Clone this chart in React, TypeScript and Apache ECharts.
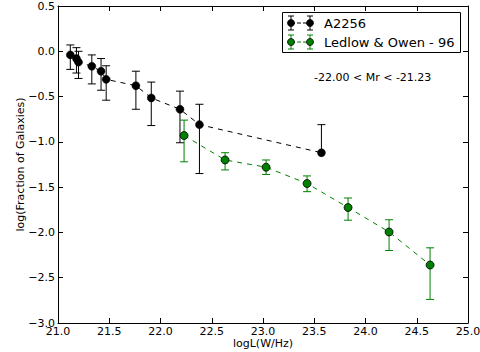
import React, { useEffect, useRef } from "react";
import * as echarts from "echarts";

const a2256X = [21.12, 21.18, 21.2, 21.33, 21.42, 21.47, 21.76, 21.91, 22.19, 22.38, 23.57];
const a2256Y = [-0.04, -0.08, -0.12, -0.165, -0.22, -0.31, -0.38, -0.515, -0.64, -0.81, -1.12];
const a2256Hi = [0.07, 0.04, 0.0, -0.04, -0.08, -0.16, -0.22, -0.34, -0.44, -0.585, -0.81];
const a2256Lo = [-0.2, -0.24, -0.3, -0.36, -0.43, -0.54, -0.64, -0.82, -1.01, -1.35, NaN];

const ledX = [22.23, 22.63, 23.03, 23.43, 23.83, 24.23, 24.63];
const ledY = [-0.93, -1.2, -1.28, -1.46, -1.725, -1.995, -2.36];
const ledHi = [-0.76, -1.12, -1.2, -1.376, -1.62, -1.86, -2.17];
const ledLo = [-1.22, -1.31, -1.36, -1.55, -1.865, -2.2, -2.74];

const seriesNames = ["A2256", "Ledlow & Owen - 96"];
const annotation = "-22.00 < Mr < -21.23";
const xLabel = "logL(W/Hz)";
const yLabel = "log(Fraction of Galaxies)";

const FONT = "DejaVu Sans";
const GREEN = "#008000";

function errRender(color: string) {
  return (params: any, api: any) => {
    const x = api.value(0);
    const y = api.value(1);
    const hi = api.value(2);
    const lo = api.value(3);
    const pc = api.coord([x, y]);
    const ph = api.coord([x, hi]);
    const hasLo = !isNaN(lo);
    const pl = hasLo ? api.coord([x, lo]) : pc;
    const cw = 4;
    const style = { stroke: color, lineWidth: 1 };
    const children: any[] = [
      { type: "line", shape: { x1: pc[0], y1: ph[1], x2: pc[0], y2: pl[1] }, style },
      { type: "line", shape: { x1: pc[0] - cw, y1: ph[1], x2: pc[0] + cw, y2: ph[1] }, style },
    ];
    if (hasLo) {
      children.push({ type: "line", shape: { x1: pc[0] - cw, y1: pl[1], x2: pc[0] + cw, y2: pl[1] }, style });
    }
    return { type: "group", children };
  };
}

function legendEntry(y: number, color: string, edge: string, label: string) {
  const xs = [291, 310];
  const els: any[] = [
    { type: "line", shape: { x1: xs[0], y1: y, x2: xs[1], y2: y }, style: { stroke: color, lineWidth: 1, lineDash: [4, 2] } },
  ];
  xs.forEach((x) => {
    els.push({ type: "line", shape: { x1: x, y1: y - 7, x2: x, y2: y + 7 }, style: { stroke: color, lineWidth: 1 } });
    els.push({ type: "line", shape: { x1: x - 3, y1: y - 7, x2: x + 3, y2: y - 7 }, style: { stroke: color, lineWidth: 1 } });
    els.push({ type: "line", shape: { x1: x - 3, y1: y + 7, x2: x + 3, y2: y + 7 }, style: { stroke: color, lineWidth: 1 } });
    els.push({ type: "circle", shape: { cx: x, cy: y, r: 3.5 }, style: { fill: color, stroke: edge, lineWidth: 0.8 } });
  });
  els.push({
    type: "text",
    x: 324,
    y,
    style: { text: label, fill: "#000", font: `13px "${FONT}"`, verticalAlign: "middle", align: "left" },
  });
  return els;
}

export default function App() {
  const ref = useRef<HTMLDivElement>(null);
  useEffect(() => {
    if (!ref.current) return;
    const chart = echarts.init(ref.current, null, { renderer: "svg" });
    const fmt = (v: number) => v.toFixed(1).replace("-", "\u2212");
    const axisCommon = {
      type: "value" as const,
      axisLine: { show: true, onZero: false, lineStyle: { color: "#000", width: 1 } },
      axisTick: { show: true, inside: true, length: 5, lineStyle: { color: "#000" } },
      splitLine: { show: false },
    };
    chart.setOption({
      animation: false,
      backgroundColor: "#fff",
      grid: { left: 58, right: 12, top: 6, bottom: 29, containLabel: false, outerBoundsMode: "none" },
      xAxis: [
        {
          ...axisCommon,
          min: 21,
          max: 25,
          interval: 0.5,
          position: "bottom",
          axisLabel: { formatter: fmt, color: "#000", fontFamily: FONT, fontSize: 11, margin: 3 },
          name: xLabel,
          nameLocation: "middle",
          nameGap: 15,
          nameMoveOverlap: false,
          nameTextStyle: { color: "#000", fontFamily: FONT, fontSize: 11 },
        },
        {
          ...axisCommon,
          min: 21,
          max: 25,
          interval: 0.5,
          position: "top",
          axisLabel: { show: false },
        },
      ],
      yAxis: [
        {
          ...axisCommon,
          min: -3,
          max: 0.5,
          interval: 0.5,
          position: "left",
          axisLabel: { formatter: fmt, color: "#000", fontFamily: FONT, fontSize: 11, margin: 3 },
          name: yLabel,
          nameLocation: "middle",
          nameGap: 32,
          nameMoveOverlap: false,
          nameRotate: 90,
          nameTextStyle: { color: "#000", fontFamily: FONT, fontSize: 11 },
        },
        {
          ...axisCommon,
          min: -3,
          max: 0.5,
          interval: 0.5,
          position: "right",
          axisLabel: { show: false },
        },
      ],
      series: [
        {
          type: "custom",
          name: "errA",
          renderItem: errRender("#000"),
          data: a2256X.map((x, i) => [x, a2256Y[i], a2256Hi[i], a2256Lo[i]]),
          encode: { x: 0, y: 1 },
          z: 2,
        },
        {
          type: "line",
          name: seriesNames[0],
          data: a2256X.map((x, i) => [x, a2256Y[i]]),
          symbol: "circle",
          symbolSize: 8,
          lineStyle: { color: "#000", width: 1, type: [5, 5] },
          itemStyle: { color: "#000", borderColor: "#000", borderWidth: 0.5 },
          z: 3,
        },
        {
          type: "custom",
          name: "errL",
          renderItem: errRender(GREEN),
          data: ledX.map((x, i) => [x, ledY[i], ledHi[i], ledLo[i]]),
          encode: { x: 0, y: 1 },
          z: 2,
        },
        {
          type: "line",
          name: seriesNames[1],
          data: ledX.map((x, i) => [x, ledY[i]]),
          symbol: "circle",
          symbolSize: 8,
          lineStyle: { color: GREEN, width: 1, type: [5, 5] },
          itemStyle: { color: GREEN, borderColor: "#000", borderWidth: 0.8 },
          z: 3,
        },
      ],
      graphic: [
        {
          type: "rect",
          shape: { x: 282.5, y: 12.5, width: 178, height: 40 },
          style: { fill: "#fff", stroke: "#000", lineWidth: 1 },
          z: 10,
        },
        ...legendEntry(23, "#000", "#000", seriesNames[0]).map((e) => ({ ...e, z: 11 })),
        ...legendEntry(42, GREEN, "#000", seriesNames[1]).map((e) => ({ ...e, z: 11 })),
        {
          type: "text",
          x: 314,
          y: 77,
          style: { text: annotation, fill: "#000", font: `11px "${FONT}"`, verticalAlign: "middle", align: "left" },
          z: 11,
        },
      ],
    });
    return () => chart.dispose();
  }, []);
  return <div ref={ref} style={{ width: 480, height: 352, position: "absolute", left: 0, top: 0 }} />;
}
